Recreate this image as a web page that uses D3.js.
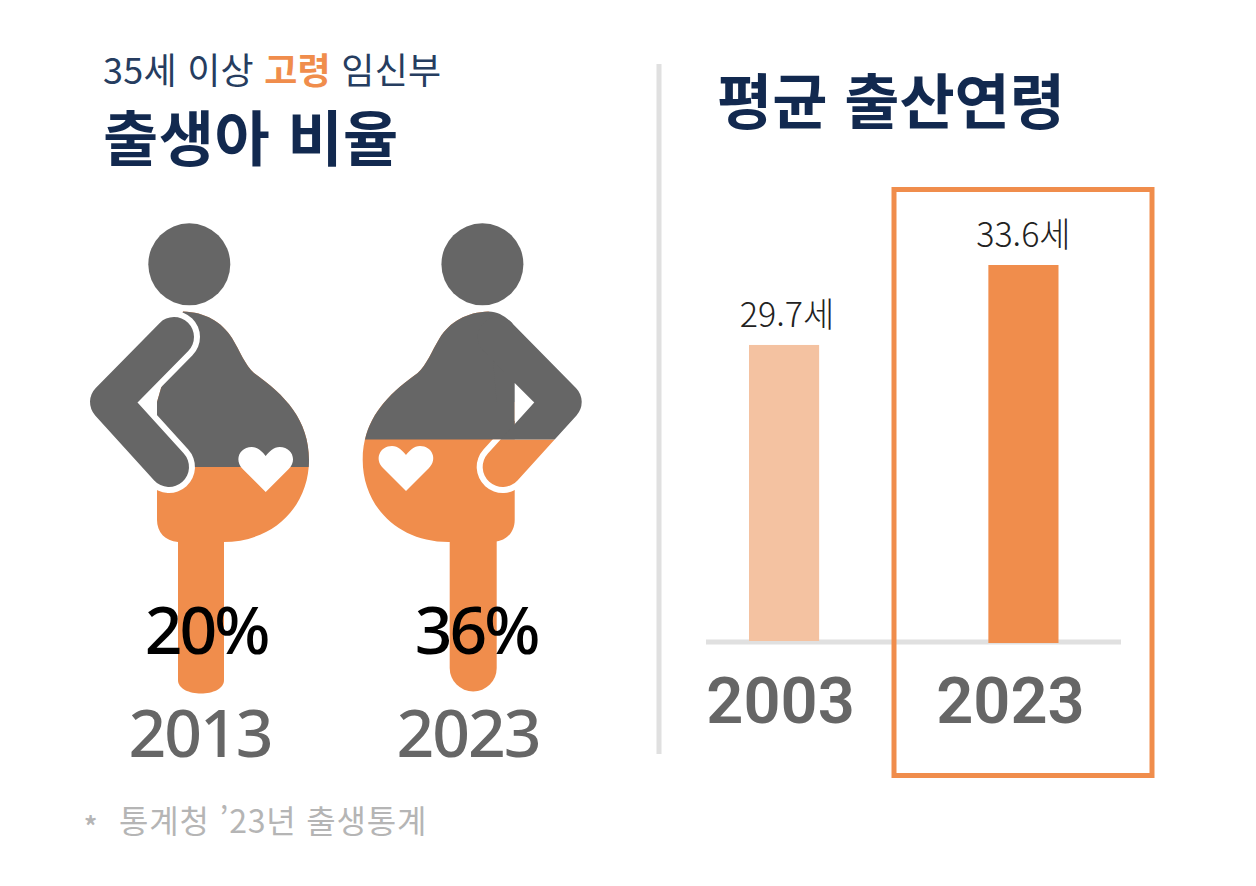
<!DOCTYPE html>
<html lang="ko">

<head>
    <meta charset="UTF-8">
    <title>출생아 비율 / 평균 출산연령</title>
    <script src="https://d3js.org/d3.v7.min.js"></script>
    <style>
        body {
            margin: 0;
            background: #fff;
        }
    </style>
</head>

<body>
    <svg id="chart" width="1256" height="886" font-family='"Noto Sans CJK KR", sans-serif'></svg>
    <script>
        // left panel
        const figureYears = ["2013", "2023"];
        const figureShares = [20, 36];
        // right panel
        const barYears = ["2003", "2023"];
        const barAges = [29.7, 33.6];

        const orange = "#f08d4c";
        const paleOrange = "#f4c2a1";
        const grey = "#666666";
        const navy = "#12294f";
        const lineGrey = "#e0e0e0";

        // pictogram outlines, drawn facing right and mirrored for the second one
        const bodyPath = "M183,311.5 C205,312 222,322 232,338 C240,351 245,365 254,373 C285,395 309,420 309,460 C309,505 275,542 223,542 L178,542 C165,541 157,532 157,520 L157,402 Z";
        const armPath = "M174,337 L110,402 L169,467";
        const heartPath = "M0,35 L-23,12 C-32,3 -26,-10 -14,-10 C-8,-10 -3,-5 0,-1 C3,-5 8,-10 14,-10 C26,-10 32,3 23,12 Z";
        const notchPath = "M138,402 L157,383 L157,421 Z";
        const shoulderPath = "M183,311.5 C174,311.5 167,316 159.5,323 L138,402 L175,402 Z";
        const legFlat = "M178,535 L224,535 L224,680 C224,698 178,698 178,680 Z";
        const legRound = "M175,535 L222,535 L222,668 A23.5,23.5 0 0 1 175,668 Z";

        const svg = d3.select("#chart");

        // the fill level of the two figures
        const fillY = d3.scaleLinear().domain([20, 36]).range([467, 439.5]);
        const figures = [
            { year: figureYears[0], share: figureShares[0], mirror: false, leg: legFlat, labelX: 206, yearX: 200 },
            { year: figureYears[1], share: figureShares[1], mirror: true, leg: legRound, labelX: 476, yearX: 468 }
        ];

        const defs = svg.append("defs");

        figures.forEach((f, i) => {
            const g = svg.append("g");
            const fig = g.append("g")
                .attr("transform", f.mirror ? "translate(671.7,0) scale(-1,1)" : null);
            const level = fillY(f.share);

            defs.append("clipPath").attr("id", "top" + i)
                .append("rect").attr("x", 0).attr("y", 0).attr("width", 700).attr("height", level);
            defs.append("clipPath").attr("id", "bottom" + i)
                .append("rect").attr("x", 0).attr("y", level).attr("width", 700).attr("height", 500);

            fig.append("circle").attr("cx", 189.3).attr("cy", 264.3).attr("r", 41).attr("fill", grey);

            // leg and belly are split in two colours at the fill level
            fig.append("path").attr("d", f.leg).attr("fill", orange);
            fig.append("path").attr("d", bodyPath).attr("fill", orange);
            fig.append("path").attr("d", bodyPath).attr("fill", grey).attr("clip-path", `url(#top${i})`);

            if (f.mirror) {
                // arm merges with the body above the fill level
                fig.append("path").attr("d", shoulderPath).attr("fill", grey);
                fig.append("path").attr("d", armPath)
                    .attr("fill", "none").attr("stroke", "#fff").attr("stroke-width", 52)
                    .attr("stroke-linecap", "round").attr("stroke-linejoin", "round")
                    .attr("clip-path", `url(#bottom${i})`);
                fig.append("path").attr("d", armPath)
                    .attr("fill", "none").attr("stroke", orange).attr("stroke-width", 40)
                    .attr("stroke-linecap", "round").attr("stroke-linejoin", "round")
                    .attr("clip-path", `url(#bottom${i})`);
                fig.append("path").attr("d", armPath)
                    .attr("fill", "none").attr("stroke", grey).attr("stroke-width", 40)
                    .attr("stroke-linecap", "round").attr("stroke-linejoin", "round")
                    .attr("clip-path", `url(#top${i})`);
                fig.append("path").attr("d", notchPath).attr("fill", "#fff");
            } else {
                fig.append("path").attr("d", armPath)
                    .attr("fill", "none").attr("stroke", "#fff").attr("stroke-width", 52)
                    .attr("stroke-linecap", "round").attr("stroke-linejoin", "round");
                fig.append("path").attr("d", notchPath).attr("fill", "#fff");
                fig.append("path").attr("d", armPath)
                    .attr("fill", "none").attr("stroke", grey).attr("stroke-width", 40)
                    .attr("stroke-linecap", "round").attr("stroke-linejoin", "round");
            }

            fig.append("path").attr("d", heartPath).attr("fill", "#fff")
                .attr("transform", `translate(265.7,${f.mirror ? 456 : 457})`);

            g.append("text").attr("x", f.labelX).attr("y", 654)
                .attr("text-anchor", "middle").attr("font-size", 66).attr("font-weight", 500)
                .attr("font-family", '"Noto Sans", sans-serif')
                .attr("letter-spacing", -3).attr("fill", "#000").text(f.share + "%");

            g.append("text").attr("x", f.yearX).attr("y", 757)
                .attr("text-anchor", "middle").attr("font-size", 66).attr("font-weight", 500)
                .attr("font-family", '"Noto Sans", sans-serif')
                .attr("letter-spacing", -2).attr("fill", grey).text(f.year);
        });

        // bar panel
        const x = d3.scaleBand().domain(barYears).range([749, 1058.5]).paddingInner(0.707).paddingOuter(0);
        // the bars do not start from zero in the source picture
        const y = d3.scaleLinear().domain([15.26, 33.6]).range([641, 265]);
        const barColors = [paleOrange, orange];
        const yearOffset = [-3.5, -13];
        const labelOffset = [3, 0];

        svg.append("line").attr("x1", 659).attr("x2", 659).attr("y1", 64).attr("y2", 754)
            .attr("stroke", lineGrey).attr("stroke-width", 5);

        svg.append("line").attr("x1", 706).attr("x2", 1121).attr("y1", 642).attr("y2", 642)
            .attr("stroke", lineGrey).attr("stroke-width", 5);

        svg.selectAll(".bar").data(barAges).enter().append("rect")
            .attr("class", "bar")
            .attr("x", (d, i) => x(barYears[i]))
            .attr("y", d => y(d))
            .attr("width", x.bandwidth())
            .attr("height", (d, i) => y.range()[0] - y(d) + (i === 1 ? 2 : 0))
            .attr("fill", (d, i) => barColors[i]);

        svg.selectAll(".age").data(barAges).enter().append("text")
            .attr("class", "age")
            .attr("x", (d, i) => x(barYears[i]) + x.bandwidth() / 2 + labelOffset[i])
            .attr("y", d => y(d) - 18)
            .attr("text-anchor", "middle").attr("font-size", 34).attr("font-weight", 300)
            .attr("fill", "#222")
            .text(d => d.toFixed(1) + "세");

        const axis = svg.append("g").attr("transform", "translate(0,642)")
            .call(d3.axisBottom(x).tickSize(0));
        axis.select(".domain").remove();
        axis.selectAll("text")
            .attr("y", 81).attr("dy", 0)
            .attr("dx", (d, i) => yearOffset[i])
            .attr("font-size", 65).attr("font-weight", 600)
            .attr("font-family", "Roboto, sans-serif")
            .attr("fill", grey);

        // highlight box on the latest year
        svg.append("rect").attr("x", 894).attr("y", 189.5).attr("width", 258).attr("height", 586)
            .attr("fill", "none").attr("stroke", orange).attr("stroke-width", 5);

        // titles
        const sub = svg.append("text").attr("x", 103).attr("y", 84)
            .attr("font-size", 36).attr("font-weight", 400).attr("letter-spacing", 0.25).attr("fill", "#263d60");
        sub.append("tspan").text("35세 이상 ");
        sub.append("tspan").attr("fill", orange).attr("font-weight", 700).text("고령");
        sub.append("tspan").text(" 임신부");

        svg.append("text").attr("x", 103).attr("y", 161)
            .attr("font-size", 60).attr("font-weight", 700).attr("letter-spacing", 0.5).attr("fill", navy)
            .text("출생아 비율");

        svg.append("text").attr("x", 717).attr("y", 124)
            .attr("font-size", 60).attr("font-weight", 700).attr("fill", navy)
            .text("평균 출산연령");

        svg.append("text").attr("x", 84).attr("y", 836)
            .attr("font-size", 26).attr("font-weight", 700).attr("fill", "#b5b5b5").text("*");
        svg.append("text").attr("x", 119).attr("y", 833)
            .attr("font-size", 32).attr("letter-spacing", 0.8).attr("fill", "#b5b5b5").text("통계청 ’23년 출생통계");
    </script>
</body>

</html>
